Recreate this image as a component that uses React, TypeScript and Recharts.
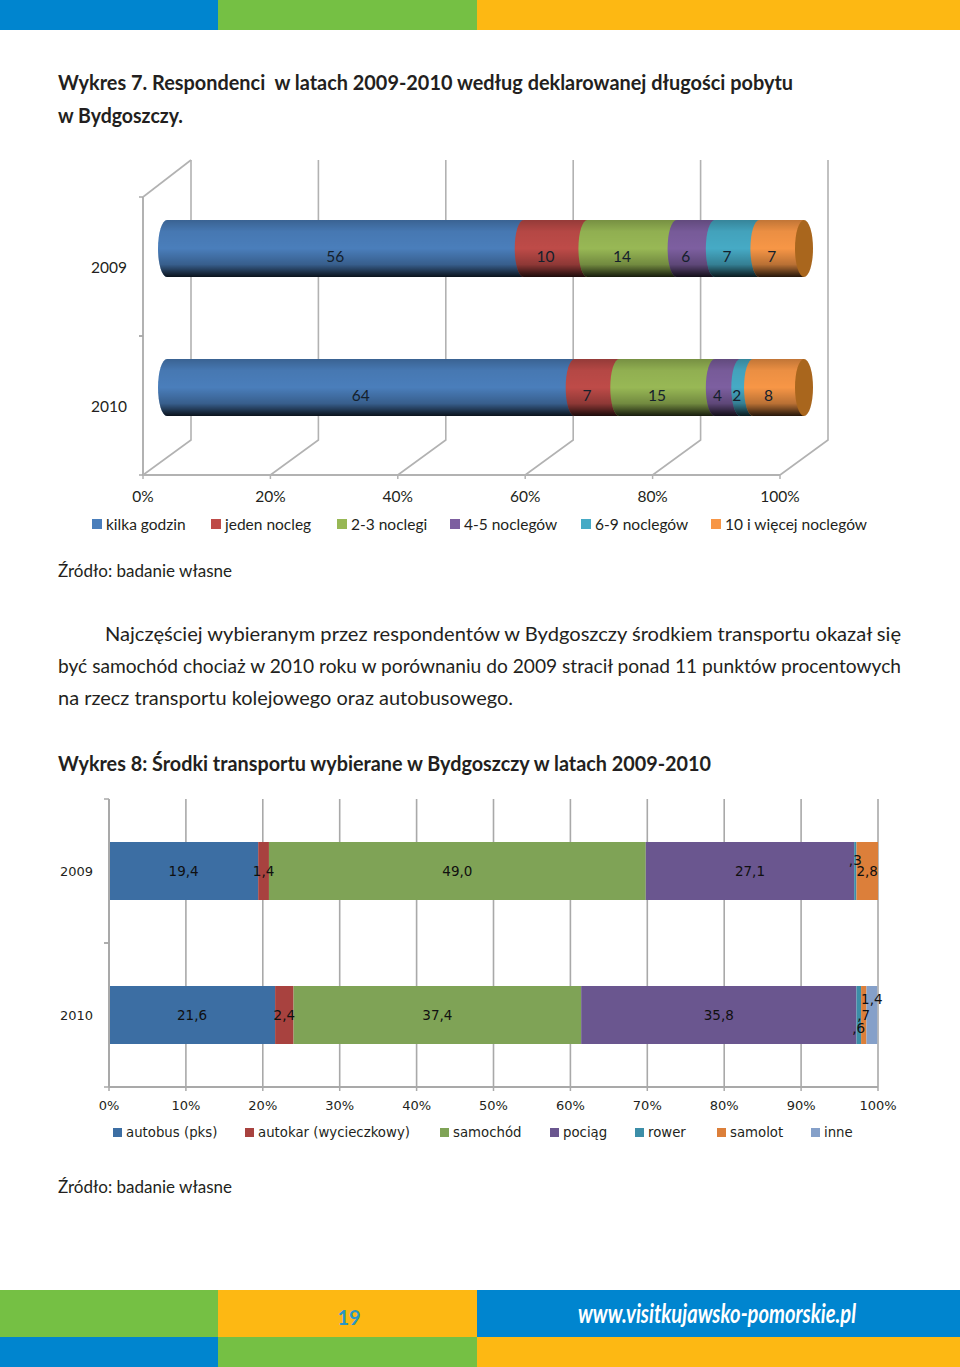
import React from 'react';
import { BarChart, Bar, XAxis, YAxis, CartesianGrid, LabelList, Legend } from 'recharts';

// ---------- data: chart 1 ----------
const YEARS_STAY = ['2009', '2010'];
const STAY_SERIES = ['kilka godzin', 'jeden nocleg', '2-3 noclegi', '4-5 noclegów', '6-9 noclegów', '10 i więcej noclegów'];
const STAY_HOURS = [56, 64];
const STAY_ONE = [10, 7];
const STAY_2_3 = [14, 15];
const STAY_4_5 = [6, 4];
const STAY_6_9 = [7, 2];
const STAY_10 = [7, 8];
const STAY_TICKS = [0, 20, 40, 60, 80, 100];

// ---------- data: chart 2 ----------
const YEARS_TRANSPORT = ['2009', '2010'];
const TRANSPORT_SERIES = ['autobus (pks)', 'autokar (wycieczkowy)', 'samochód', 'pociąg', 'rower', 'samolot', 'inne'];
const T_BUS = [19.4, 21.6];
const T_COACH = [1.4, 2.4];
const T_CAR = [49.0, 37.4];
const T_TRAIN = [27.1, 35.8];
const T_BIKE = [0.3, 0.6];
const T_PLANE = [2.8, 0.7];
const T_OTHER = [0, 1.4];
const TRANSPORT_TICKS = [0, 10, 20, 30, 40, 50, 60, 70, 80, 90, 100];

const stayRows = YEARS_STAY.map((year, i) => {
  const values = [STAY_HOURS, STAY_ONE, STAY_2_3, STAY_4_5, STAY_6_9, STAY_10];
  const row: Record<string, any> = { year };
  STAY_SERIES.forEach((s, k) => { row[s] = values[k][i]; });
  return row;
});
const transportRows = YEARS_TRANSPORT.map((year, i) => {
  const values = [T_BUS, T_COACH, T_CAR, T_TRAIN, T_BIKE, T_PLANE, T_OTHER];
  const row: Record<string, any> = { year };
  TRANSPORT_SERIES.forEach((s, k) => { row[s] = values[k][i]; });
  return row;
});

// ---------- styles ----------
const STAY_COLORS = ['#4a7ebb', '#be4b48', '#98b855', '#7d5fa0', '#46aac5', '#f79646'];
const T_COLORS = ['#3c6ea3', '#a8423f', '#7fa356', '#6a568f', '#3c8ea8', '#dc7f3a', '#85a0c9'];
const STAY_LEGEND_X = [92, 211, 337, 450, 581, 711];
const T_LEGEND_X = [113, 245, 440, 550, 635, 717, 811];
const T_LABEL_LIFT: Record<string, number> = { 'rower|0.3': -11, 'rower|0.6': 13, 'inne|1.4': -16 };
const TEXT = '#231f20';
const GRID = '#a9a9a9';
const BLUE = '#0085cf';
const GREEN = '#75c044';
const YELLOW = '#fdb813';

const DEPTH_X = 48;
const DEPTH_Y = 35;
const BAR_DX = 24;
const BAR_DY = -18;
const CAP_RX = 9;

const Line = ({ x, y, len, size, bold, children }: any) => (
  <text x={x} y={y} textLength={len} lengthAdjust="spacingAndGlyphs" fontFamily="Lato" fontSize={size}
    fontWeight={bold ? 700 : 400} fill={TEXT} style={{ whiteSpace: 'pre' }}>{children}</text>
);

const Page = () => (
  <svg width={960} height={1367} style={{ position: 'absolute', left: 0, top: 0 }}>
    <rect x={0} y={0} width={960} height={1367} fill="#fff" />
    <rect x={0} y={0} width={218} height={30} fill={BLUE} />
    <rect x={218} y={0} width={259} height={30} fill={GREEN} />
    <rect x={477} y={0} width={483} height={30} fill={YELLOW} />
    <rect x={0} y={1290} width={218} height={47} fill={GREEN} />
    <rect x={218} y={1290} width={259} height={47} fill={YELLOW} />
    <rect x={477} y={1290} width={483} height={47} fill={BLUE} />
    <rect x={0} y={1337} width={218} height={30} fill={BLUE} />
    <rect x={218} y={1337} width={259} height={30} fill={GREEN} />
    <rect x={477} y={1337} width={483} height={30} fill={YELLOW} />
    <Line x={58} y={90} len={735} size={20} bold>Wykres 7. Respondenci  w latach 2009-2010 według deklarowanej długości pobytu</Line>
    <Line x={58} y={123} len={125} size={20} bold>w Bydgoszczy.</Line>
    <Line x={58} y={577} len={174} size={18}>Źródło: badanie własne</Line>
    <Line x={105} y={641} len={796} size={20}>Najczęściej wybieranym przez respondentów w Bydgoszczy środkiem transportu okazał się</Line>
    <Line x={58} y={673} len={843} size={20}>być samochód chociaż w 2010 roku w porównaniu do 2009 stracił ponad 11 punktów procentowych</Line>
    <Line x={58} y={705} len={455} size={20}>na rzecz transportu kolejowego oraz autobusowego.</Line>
    <Line x={58} y={771} len={653} size={20} bold>Wykres 8: Środki transportu wybierane w Bydgoszczy w latach 2009-2010</Line>
    <Line x={58} y={1193} len={174} size={18}>Źródło: badanie własne</Line>
    <text x={349} y={1325} textAnchor="middle" fontFamily="Lato" fontWeight={700} fontSize={20} fill="#2a96c5">19</text>
    <text x={578} y={1323} textLength={278} lengthAdjust="spacingAndGlyphs" fontFamily="Lato" fontWeight={700}
      fontStyle="italic" fontSize={26} fill="#fff">www.visitkujawsko-pomorskie.pl</text>
  </svg>
);

// wall + floor line for each percent tick of the 3D chart
const WallLine = (props: any) => {
  const { x1, y1, y2, offset } = props;
  const bottom = Math.max(y1, y2);
  const plotTop = Math.min(y1, y2);
  const wallTop = 160;
  const isFirst = offset && Math.abs(x1 - offset.left) < 1;
  return (
    <g fill="none" stroke="#b2b2b2" strokeWidth={1.6}>
      <path d={`M${x1},${bottom} L${x1 + DEPTH_X},${bottom - DEPTH_Y} L${x1 + DEPTH_X},${wallTop}`} />
      {isFirst ? <path d={`M${x1},${plotTop} L${x1 + DEPTH_X},${wallTop}`} /> : null}
    </g>
  );
};

const cylinderShape = (color: string, last: boolean) => (props: any) => {
  const { x, y, width, height } = props;
  if (!width) return <g />;
  const px = x + BAR_DX;
  const py = y + BAR_DY;
  const ry = height / 2;
  const d = `M${px},${py} A${CAP_RX},${ry} 0 0 0 ${px},${py + height} L${px + width},${py + height} L${px + width},${py} Z`;
  return (
    <g>
      <path d={d} fill={color} />
      <path d={d} fill="url(#cylShade)" />
      {last ? (
        <ellipse cx={px + width} cy={py + ry} rx={CAP_RX} ry={ry} fill="#a9661d" />
      ) : null}
    </g>
  );
};

const stayLabel = (props: any) => {
  const { x, y, width, height, value } = props;
  return (
    <text x={x + width / 2 + 14} y={y + height / 2 - 11} textAnchor="middle" dominantBaseline="central"
      fontFamily="Lato" fontSize={15.5} fill="#14202c">{value}</text>
  );
};

const yTick = (band: number, textRight: number, left: number, tickLen: number, font: string, size: number) => (props: any) => {
  const { y, payload } = props;
  return (
    <g>
      <text x={textRight} y={y} textAnchor="end" dominantBaseline="central" fontFamily={font} fontSize={size} fill={TEXT}>{payload.value}</text>
      <line x1={left - tickLen} x2={left} y1={y - band / 2} y2={y - band / 2} stroke={GRID} strokeWidth={1.5} />
      <line x1={left - tickLen} x2={left} y1={y + band / 2} y2={y + band / 2} stroke={GRID} strokeWidth={1.5} />
    </g>
  );
};

const legendContent = (xs: number[], topPx: number, font: string, size: number, textGap: number, box: number) => (props: any) => (
  <div style={{ position: 'relative', height: 20 }}>
    {props.payload.map((p: any, i: number) => (
      <div key={p.value} style={{ position: 'absolute', left: xs[i], top: topPx, whiteSpace: 'nowrap', fontFamily: font, fontSize: size, color: TEXT, lineHeight: '20px' }}>
        <span style={{ position: 'absolute', left: 0, top: 5, width: box, height: box, background: p.color }} />
        <span style={{ marginLeft: textGap }}>{p.value}</span>
      </div>
    ))}
  </div>
);

const formatDecimal = (v: number) => {
  const s = v.toFixed(1).replace('.', ',');
  return v < 1 ? s.slice(1) : s;
};

const transportLabel = (series: string) => (props: any) => {
  const { x, y, width, height, value } = props;
  if (!value) return <g />;
  const lift = T_LABEL_LIFT[`${series}|${value}`] || 0;
  return (
    <text x={x + width / 2} y={y + height / 2 + lift} textAnchor="middle" dominantBaseline="central"
      fontFamily="DejaVu Sans" fontSize={13.5} fill="#101010">{formatDecimal(value)}</text>
  );
};

export default function App() {
  return (
    <div style={{ position: 'absolute', left: 0, top: 0, width: 960, height: 1367, overflow: 'hidden' }}>
      <Page />
      <div style={{ position: 'absolute', left: 0, top: 0 }}>
        <BarChart width={960} height={560} data={stayRows} layout="vertical" barSize={57}
          margin={{ left: 83, right: 180, top: 197, bottom: 35 }}>
          <defs>
            <linearGradient id="cylShade" x1="0" y1="0" x2="0" y2="1">
              <stop offset="0" stopColor="#000" stopOpacity={0.22} />
              <stop offset="0.2" stopColor="#000" stopOpacity={0.05} />
              <stop offset="0.5" stopColor="#000" stopOpacity={0} />
              <stop offset="0.78" stopColor="#000" stopOpacity={0.25} />
              <stop offset="1" stopColor="#000" stopOpacity={0.85} />
            </linearGradient>
          </defs>
          <CartesianGrid horizontal={false} vertical={(p: any) => <WallLine key={p.key} {...p} />} />
          <XAxis type="number" domain={[0, 100]} ticks={STAY_TICKS} tickFormatter={(v: number) => `${v}%`} height={30}
            axisLine={{ stroke: '#b2b2b2', strokeWidth: 2 }} tickLine={{ stroke: '#b2b2b2', strokeWidth: 1.5 }} tickSize={4} tickMargin={12}
            tick={{ fontFamily: 'Lato', fontSize: 15.5, fill: TEXT }} interval={0} />
          <YAxis type="category" dataKey="year" width={60} axisLine={{ stroke: '#b2b2b2', strokeWidth: 2 }} tickLine={false}
            tick={yTick(139, 127, 143, 4, 'Lato', 15.5)} />
          <Legend verticalAlign="bottom" itemSorter={null} wrapperStyle={{ left: 0, top: 514, width: 960 }}
            content={legendContent(STAY_LEGEND_X, 0, 'Lato', 15.5, 14, 10)} />
          {STAY_SERIES.map((s, i) => (
            <Bar key={s} dataKey={s} stackId="a" fill={STAY_COLORS[i]} isAnimationActive={false}
              shape={cylinderShape(STAY_COLORS[i], i === STAY_SERIES.length - 1)}>
              <LabelList dataKey={s} content={stayLabel} />
            </Bar>
          ))}
        </BarChart>
      </div>
      <div style={{ position: 'absolute', left: 0, top: 760 }}>
        <BarChart width={960} height={420} data={transportRows} layout="vertical" barSize={58}
          margin={{ left: 49, right: 82, top: 39, bottom: 43 }}>
          <CartesianGrid horizontal={false} stroke={GRID} strokeWidth={1.6} />
          <XAxis type="number" domain={[0, 100]} ticks={TRANSPORT_TICKS} tickFormatter={(v: number) => `${v}%`} height={30}
            axisLine={{ stroke: GRID, strokeWidth: 2 }} tickLine={{ stroke: GRID, strokeWidth: 1.5 }} tickSize={4} tickMargin={10}
            tick={{ fontFamily: 'DejaVu Sans', fontSize: 13, fill: TEXT }} interval={0} />
          <YAxis type="category" dataKey="year" width={60} axisLine={{ stroke: GRID, strokeWidth: 2 }} tickLine={false}
            tick={yTick(144, 93, 109, 5, 'DejaVu Sans', 13)} />
          <Legend verticalAlign="bottom" itemSorter={null} wrapperStyle={{ left: 0, top: 363, width: 960 }}
            content={legendContent(T_LEGEND_X, 0, 'DejaVu Sans', 13.3, 13, 9)} />
          {TRANSPORT_SERIES.map((s, i) => (
            <Bar key={s} dataKey={s} stackId="a" fill={T_COLORS[i]} isAnimationActive={false}>
              <LabelList dataKey={s} content={transportLabel(s)} />
            </Bar>
          ))}
        </BarChart>
      </div>
    </div>
  );
}
